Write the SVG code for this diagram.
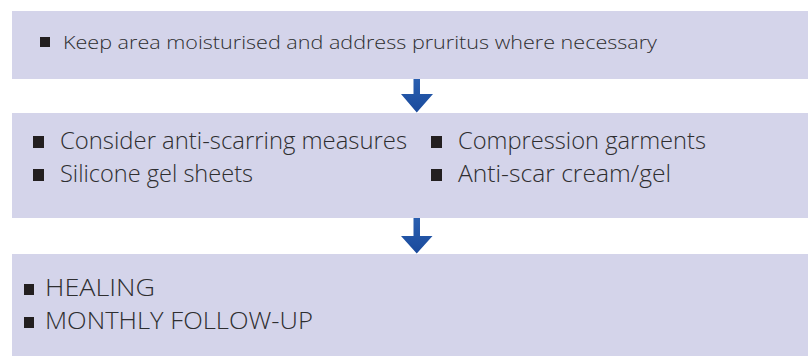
<svg xmlns="http://www.w3.org/2000/svg" width="808" height="356" viewBox="0 0 808 356">
<defs>
<style>
.box{fill:#d4d4ea}
.bul{fill:#231f20}
.t{font-family:"Open Sans",Lato,"Liberation Sans",sans-serif;font-weight:300;fill:#2e2e30}
</style>
<linearGradient id="ag" x1="0" y1="0" x2="0" y2="1">
<stop offset="0" stop-color="#2a5fb0"/>
<stop offset="1" stop-color="#1a4a9c"/>
</linearGradient>
</defs>
<rect width="808" height="356" fill="#ffffff"/>
<g id="node1">
<rect class="box" x="12" y="11" width="796" height="68"/>
<rect class="bul" x="40" y="37" width="10" height="10"/>
<text class="t" x="63" y="49" font-size="19" textLength="594" lengthAdjust="spacingAndGlyphs">Keep area moisturised and address pruritus where necessary</text>
</g>
<g id="node2">
<rect class="box" x="12" y="113" width="796" height="105"/>
<rect class="bul" x="33" y="136" width="11" height="12"/>
<text class="t" x="60" y="149" font-size="23" textLength="347" lengthAdjust="spacingAndGlyphs">Consider anti-scarring measures</text>
<rect class="bul" x="33" y="169" width="11" height="12"/>
<text class="t" x="60" y="182" font-size="23" textLength="193" lengthAdjust="spacingAndGlyphs">Silicone gel sheets</text>
<rect class="bul" x="431" y="136" width="11" height="12"/>
<text class="t" x="458" y="149" font-size="23" textLength="248" lengthAdjust="spacingAndGlyphs">Compression garments</text>
<rect class="bul" x="431" y="169" width="11" height="12"/>
<text class="t" x="458" y="182" font-size="23" textLength="213" lengthAdjust="spacingAndGlyphs">Anti-scar cream/gel</text>
</g>
<g id="node3">
<rect class="box" x="12" y="254" width="796" height="102"/>
<rect class="bul" x="24" y="284" width="10" height="11"/>
<text class="t" x="45" y="296" font-size="23" textLength="110" lengthAdjust="spacingAndGlyphs">HEALING</text>
<rect class="bul" x="24" y="317" width="10" height="11"/>
<text class="t" x="45" y="329" font-size="23" textLength="268" lengthAdjust="spacingAndGlyphs">MONTHLY FOLLOW-UP</text>
</g>
<g id="connectors">
<path fill="url(#ag)" d="M413.5 79 H420 V94 H433 L416.75 112.5 L401 94 H413.5 Z"/>
<path fill="url(#ag)" d="M413.5 218 H420 V236 H432.5 L416.75 253.5 L401 236 H413.5 Z"/>
</g>
</svg>
